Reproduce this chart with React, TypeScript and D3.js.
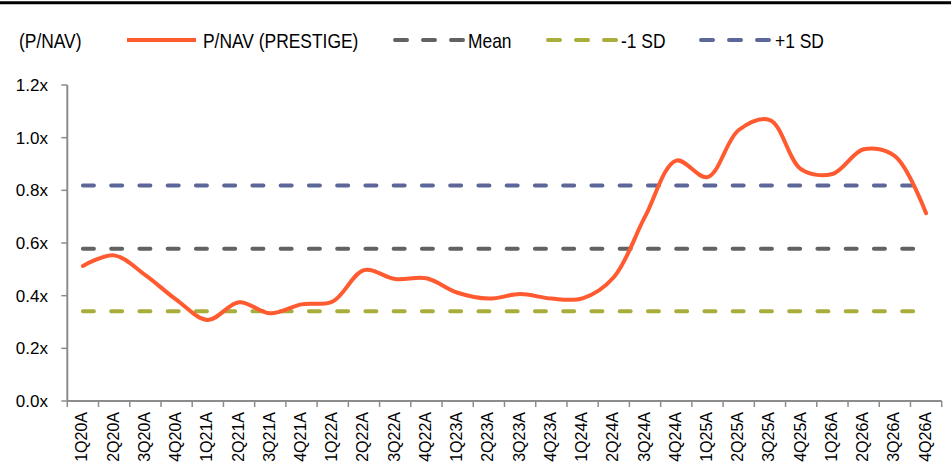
import React from "react";
import * as d3 from "d3";

const categories = ["1Q20A","2Q20A","3Q20A","4Q20A","1Q21A","2Q21A","3Q21A","4Q21A","1Q22A","2Q22A","3Q22A","4Q22A","1Q23A","2Q23A","3Q23A","4Q23A","1Q24A","2Q24A","3Q24A","4Q24A","1Q25A","2Q25A","3Q25A","4Q25A","1Q26A","2Q26A","3Q26A","4Q26A"];
const pnav = [0.513,0.553,0.478,0.384,0.308,0.375,0.333,0.367,0.378,0.497,0.463,0.466,0.411,0.389,0.406,0.389,0.39,0.47,0.70,0.913,0.85,1.029,1.067,0.88,0.862,0.956,0.93,0.713];
const meanVal = 0.578;
const minusSD = 0.341;
const plusSD = 0.818;
const yTicks = [0, 0.2, 0.4, 0.6, 0.8, 1.0, 1.2];
const legendLabels = ["(P/NAV)", "P/NAV (PRESTIGE)", "Mean", "-1 SD", "+1 SD"];

const W = 951, H = 470;
const FONT = "'Liberation Sans', Arial, sans-serif";
const C_LINE = "#FF5A30";
const C_MEAN = "#626262";
const C_MINUS = "#A9AD3B";
const C_PLUS = "#5D6699";
const C_AXIS = "#8C8C8C";

function LegendText({ x, y, children }: { x: number; y: number; children: string }) {
  return (
    <text transform={`translate(${x},${y}) scale(0.88,1)`} fontSize={19.8} fill="#000">{children}</text>
  );
}

export default function App() {
  const x0 = 67.3, x1 = 941.7, y0 = 401, y1 = 85;
  const x = d3.scaleBand<string>().domain(categories).range([x0, x1]).padding(0);
  const y = d3.scaleLinear().domain([0, 1.2]).range([y0, y1]);
  const cx = (c: string) => (x(c) as number) + x.bandwidth() / 2;

  const line = d3.line<number>()
    .x((_, i) => cx(categories[i]))
    .y((d) => y(d))
    .curve(d3.curveCatmullRom.alpha(0.5));

  const xs = cx(categories[0]);
  const xe = cx(categories[categories.length - 1]);

  const refs = [
    { v: plusSD, c: C_PLUS },
    { v: meanVal, c: C_MEAN },
    { v: minusSD, c: C_MINUS },
  ];

  const legendDash = (xStart: number, color: string) => (
    <line x1={xStart + 2} x2={xStart + 70} y1={40} y2={40} stroke={color} strokeWidth={4}
      strokeLinecap="round" strokeDasharray="12 16" />
  );

  const bounds = d3.range(categories.length + 1).map((i) => x0 + i * x.bandwidth());

  return (
    <svg width={W} height={H} style={{ position: "absolute", left: 0, top: 0, background: "#fff" }}
      fontFamily={FONT}>
      <rect x={0} y={0} width={W} height={H} fill="#fff" />
      <line x1={0} x2={W} y1={2.8} y2={2.8} stroke="#000" strokeWidth={3} />

      {/* legend */}
      <LegendText x={19} y={48}>{legendLabels[0]}</LegendText>
      <line x1={127} x2={196} y1={40} y2={40} stroke={C_LINE} strokeWidth={4} />
      <LegendText x={203} y={48}>{legendLabels[1]}</LegendText>
      {legendDash(393, C_MEAN)}
      <LegendText x={468} y={48}>{legendLabels[2]}</LegendText>
      {legendDash(546, C_MINUS)}
      <LegendText x={621} y={48}>{legendLabels[3]}</LegendText>
      {legendDash(699, C_PLUS)}
      <LegendText x={775} y={48}>{legendLabels[4]}</LegendText>

      {/* y axis */}
      <line x1={x0} x2={x0} y1={y1} y2={y0} stroke={C_AXIS} strokeWidth={2} />
      {yTicks.map((t) => (
        <g key={t}>
          <line x1={x0 - 6} x2={x0} y1={y(t)} y2={y(t)} stroke={C_AXIS} strokeWidth={1.5} />
          <text x={48} y={y(t)} dy="0.36em" textAnchor="end" fontSize={17} fill="#000">
            {t.toFixed(1) + "x"}
          </text>
        </g>
      ))}

      {/* x axis */}
      <line x1={x0} x2={x1} y1={y0} y2={y0} stroke={C_AXIS} strokeWidth={2} />
      {bounds.map((b, i) => (
        <line key={i} x1={b} x2={b} y1={y0} y2={y0 + 6} stroke={C_AXIS} strokeWidth={1.5} />
      ))}
      {categories.map((c) => (
        <text key={c} transform={`translate(${cx(c) - 1},${412}) rotate(-90)`} textAnchor="end"
          dominantBaseline="central" fontSize={16} fill="#000">{c}</text>
      ))}

      {/* reference lines */}
      {refs.map((r) => (
        <line key={r.c} x1={xs} x2={xe} y1={y(r.v)} y2={y(r.v)} stroke={r.c} strokeWidth={4}
          strokeLinecap="round" strokeDasharray="11 17.25" />
      ))}

      {/* main line */}
      <path d={line(pnav) as string} fill="none" stroke={C_LINE} strokeWidth={4}
        strokeLinejoin="round" strokeLinecap="round" />
    </svg>
  );
}
